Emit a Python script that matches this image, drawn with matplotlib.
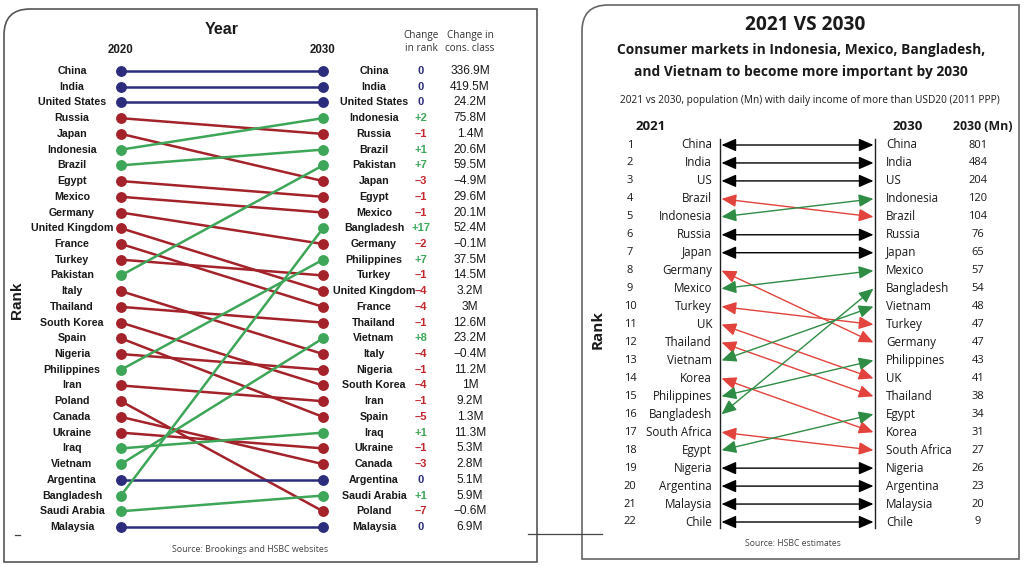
import matplotlib.pyplot as plt
from matplotlib.path import Path
from matplotlib.patches import PathPatch
from matplotlib.transforms import IdentityTransform
from matplotlib.lines import Line2D

W, H = 1024, 566

# ---- left chart data (Brookings / HSBC) ----
rank_2020 = ['China', 'India', 'United States', 'Russia', 'Japan', 'Indonesia', 'Brazil',
             'Egypt', 'Mexico', 'Germany', 'United Kingdom', 'France', 'Turkey', 'Pakistan',
             'Italy', 'Thailand', 'South Korea', 'Spain', 'Nigeria', 'Philippines', 'Iran',
             'Poland', 'Canada', 'Ukraine', 'Iraq', 'Vietnam', 'Argentina', 'Bangladesh',
             'Saudi Arabia', 'Malaysia']
rank_2030 = ['China', 'India', 'United States', 'Indonesia', 'Russia', 'Brazil', 'Pakistan',
             'Japan', 'Egypt', 'Mexico', 'Bangladesh', 'Germany', 'Philippines', 'Turkey',
             'United Kingdom', 'France', 'Thailand', 'Vietnam', 'Italy', 'Nigeria',
             'South Korea', 'Iran', 'Spain', 'Iraq', 'Ukraine', 'Canada', 'Argentina',
             'Saudi Arabia', 'Poland', 'Malaysia']
cons_class_change = ['336.9M', '419.5M', '24.2M', '75.8M', '1.4M', '20.6M', '59.5M', '−4.9M',
                     '29.6M', '20.1M', '52.4M', '−0.1M', '37.5M', '14.5M', '3.2M', '3M',
                     '12.6M', '23.2M', '−0.4M', '11.2M', '1M', '9.2M', '1.3M', '11.3M',
                     '5.3M', '2.8M', '5.1M', '5.9M', '−0.6M', '6.9M']

# ---- right chart data (HSBC estimates) ----
rank_2021 = ['China', 'India', 'US', 'Brazil', 'Indonesia', 'Russia', 'Japan', 'Germany',
             'Mexico', 'Turkey', 'UK', 'Thailand', 'Vietnam', 'Korea', 'Philippines',
             'Bangladesh', 'South Africa', 'Egypt', 'Nigeria', 'Argentina', 'Malaysia', 'Chile']
rank_2030b = ['China', 'India', 'US', 'Indonesia', 'Brazil', 'Russia', 'Japan', 'Mexico',
              'Bangladesh', 'Vietnam', 'Turkey', 'Germany', 'Philippines', 'UK', 'Thailand',
              'Egypt', 'Korea', 'South Africa', 'Nigeria', 'Argentina', 'Malaysia', 'Chile']
pop_2030 = [801, 484, 204, 120, 104, 76, 65, 57, 54, 48, 47, 47, 43, 41, 38, 34, 31, 27,
            26, 23, 20, 9]

NAVY = '#2b2d7c'
DRED = '#a4232b'
DGREEN = '#3ea659'
RED = '#e2433c'
GREEN = '#2f8c45'
TXT = '#1a1a1a'

fig = plt.figure(figsize=(W / 100, H / 100), dpi=100)
fig.patch.set_facecolor('white')


def panel_axes(x0, y0, x1, y1):
    return fig.add_axes([x0 / W, 1 - y1 / H, (x1 - x0) / W, (y1 - y0) / H])


def panel_box(x0, y0, x1, y1, r, color):
    # rectangle with only the top-left corner rounded, in pixel coordinates
    Y0, Y1 = H - y1, H - y0
    verts = [(x1, Y0), (x0, Y0), (x0, Y1 - r), (x0, Y1), (x0 + r, Y1), (x1, Y1), (x1, Y0)]
    codes = [Path.MOVETO, Path.LINETO, Path.LINETO, Path.CURVE3, Path.CURVE3,
             Path.LINETO, Path.CLOSEPOLY]
    fig.add_artist(PathPatch(Path(verts, codes), transform=IdentityTransform(),
                             facecolor='none', edgecolor=color, lw=1.2, zorder=-1))


panel_box(4, 9, 537, 562, 26, '#555555')
panel_box(582, 5, 1019, 559, 26, '#666666')

# ================= left chart =================
L = dict(x0=4, y0=9, x1=537, y1=562, xa=121, xb=323, ya=71, yb=527, n=len(rank_2020))
kx = L['xb'] - L['xa']
ky = (L['yb'] - L['ya']) / (L['n'] - 1)
axl = panel_axes(L['x0'], L['y0'], L['x1'], L['y1'])
axl.set_xlim((L['x0'] - L['xa']) / kx, (L['x1'] - L['xa']) / kx)
axl.set_ylim(1 + (L['y1'] - L['ya']) / ky, 1 - (L['ya'] - L['y0']) / ky)
axl.axis('off')


def lx(px):
    return (px - L['xa']) / kx


def ly(py):
    return 1 + (py - L['ya']) / ky


bold = dict(family='Liberation Sans', weight='bold', color=TXT)
for i, name in enumerate(rank_2020):
    r0 = i + 1
    r1 = rank_2030.index(name) + 1
    c = NAVY if r0 == r1 else (DGREEN if r1 < r0 else DRED)
    axl.plot([0, 1], [r0, r1], color=c, lw=1.8, zorder=2)
    axl.plot([0, 1], [r0, r1], 'o', color=c, ms=6.8, zorder=3)
    axl.text(lx(72), r0, name, ha='center', va='center', fontsize=7.7, **bold)

for j, name in enumerate(rank_2030):
    r1 = j + 1
    d = rank_2020.index(name) + 1 - r1
    c = NAVY if d == 0 else (DGREEN if d > 0 else '#c3262d')
    s = '0' if d == 0 else ('+%d' % d if d > 0 else '–%d' % -d)
    axl.text(lx(374), r1, name, ha='center', va='center', fontsize=7.7, **bold)
    axl.text(lx(421), r1, s, ha='center', va='center', fontsize=8.0,
             family='Liberation Sans', weight='bold', color=c)
    axl.text(lx(470), r1, cons_class_change[j], ha='center', va='center', fontsize=8.6,
             family='Liberation Sans', color=TXT)

axl.text(lx(222), ly(29), 'Year', ha='center', va='center', fontsize=11.5, **bold)
axl.text(0, ly(50), '2020', ha='center', va='center', fontsize=8.3, **bold)
axl.text(1, ly(50), '2030', ha='center', va='center', fontsize=8.3, **bold)
axl.text(lx(421), ly(42), 'Change\nin rank', ha='center', va='center', fontsize=7.2,
         family='Open Sans', color='#333333', linespacing=1.15)
axl.text(lx(470), ly(42), 'Change in\ncons. class', ha='center', va='center', fontsize=7.2,
         family='Open Sans', color='#333333', linespacing=1.15)
axl.text(lx(17), ly(300), 'Rank', ha='center', va='center', rotation=90, fontsize=11,
         **bold)
axl.text(lx(250), ly(550), 'Source: Brookings and HSBC websites', ha='center', va='center',
         fontsize=6.4, family='Open Sans', color='#444444')

# connector lines between the panels
fig.add_artist(Line2D([528 / W, 602 / W], [1 - 534 / H, 1 - 534 / H], color='#444444', lw=0.9))
fig.add_artist(Line2D([15 / W, 20 / W], [1 - 535 / H, 1 - 535 / H], color='#444444', lw=0.9))

# ================= right chart =================
R = dict(x0=582, y0=5, x1=1019, y1=559, xa=720, xb=875, ya=145, yb=522, n=len(rank_2021))
rkx = R['xb'] - R['xa']
rky = (R['yb'] - R['ya']) / (R['n'] - 1)
axr = panel_axes(R['x0'], R['y0'], R['x1'], R['y1'])
axr.set_xlim((R['x0'] - R['xa']) / rkx, (R['x1'] - R['xa']) / rkx)
axr.set_ylim(1 + (R['y1'] - R['ya']) / rky, 1 - (R['ya'] - R['y0']) / rky)
axr.axis('off')


def rx(px):
    return (px - R['xa']) / rkx


def ry(py):
    return 1 + (py - R['ya']) / rky


FR = 'Open Sans'
axr.plot([0, 0], [ry(139), ry(528)], color='#222222', lw=1.0)
axr.plot([1, 1], [ry(139), ry(528)], color='#222222', lw=1.0)

for i, name in enumerate(rank_2021):
    r0 = i + 1
    r1 = rank_2030b.index(name) + 1
    c = 'black' if r0 == r1 else (GREEN if r1 < r0 else RED)
    axr.annotate('', xy=(0.99, r1), xytext=(0.01, r0),
                 arrowprops=dict(arrowstyle='<|-|>,head_length=0.8,head_width=0.35',
                                 color=c, lw=1.0, shrinkA=0, shrinkB=0,
                                 mutation_scale=11))
    axr.text(rx(630), r0, str(r0), ha='center', va='center', fontsize=8, family=FR,
             color=TXT)
    axr.text(rx(712), r0, name, ha='right', va='center', fontsize=8.4, family=FR, color=TXT)

for j, name in enumerate(rank_2030b):
    axr.text(rx(886), j + 1, name, ha='left', va='center', fontsize=8.4, family=FR, color=TXT)
    axr.text(rx(978), j + 1, str(pop_2030[j]), ha='center', va='center', fontsize=8,
             family=FR, color=TXT)

axr.text(rx(651), ry(127), '2021', ha='center', va='center', fontsize=9.5, family=FR,
         weight='bold', color=TXT)
axr.text(rx(908), ry(127), '2030', ha='center', va='center', fontsize=9.5, family=FR,
         weight='bold', color=TXT)
axr.text(rx(983), ry(127), '2030 (Mn)', ha='center', va='center', fontsize=8.8, family=FR,
         weight='bold', color=TXT)
axr.text(rx(805), ry(25), '2021 VS 2030', ha='center', va='center', fontsize=13.8,
         family=FR, weight='bold', color=TXT)
axr.text(rx(801), ry(50), 'Consumer markets in Indonesia, Mexico, Bangladesh,', ha='center',
         va='center', fontsize=9.9, family=FR, weight='bold', color=TXT)
axr.text(rx(801), ry(72), 'and Vietnam to become more important by 2030', ha='center',
         va='center', fontsize=9.9, family=FR, weight='bold', color=TXT)
axr.text(rx(810), ry(100), '2021 vs 2030, population (Mn) with daily income of more than '
         'USD20 (2011 PPP)', ha='center', va='center', fontsize=7.3, family=FR, color=TXT)
axr.text(rx(598), ry(330), 'Rank', ha='center', va='center', rotation=90, fontsize=11,
         family=FR, weight='bold', color=TXT)
axr.text(rx(793), ry(543), 'Source: HSBC estimates', ha='center', va='center', fontsize=6.2,
         family=FR, color='#444444')

fig.savefig('out.png', dpi=100)
